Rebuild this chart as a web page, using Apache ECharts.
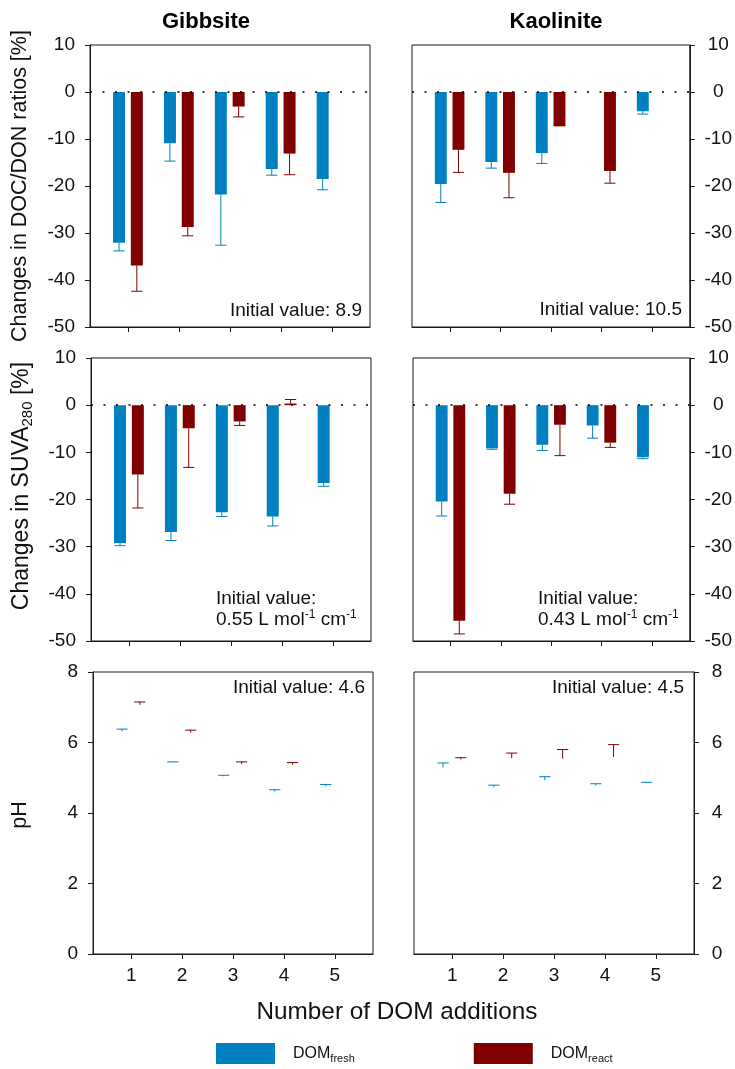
<!DOCTYPE html>
<html>
<head>
<meta charset="utf-8">
<script src="https://cdn.jsdelivr.net/npm/echarts@6/dist/echarts.min.js"></script>
<style>
html,body{margin:0;padding:0;background:#fff;}
#chart{width:735px;height:1069px;}
</style>
</head>
<body>
<div id="chart"></div>
<script>
// ---------------- data ----------------
const additions = [1, 2, 3, 4, 5];
const xTicks = [1, 2, 3, 4, 5];
const pctTicks = [-50, -40, -30, -20, -10, 0, 10];
const phTicks = [0, 2, 4, 6, 8];

// Changes in DOC/DON ratios [%]
const docGibbFresh    = [-32.1, -10.9, -21.8, -16.4, -18.5];
const docGibbFreshErr = [1.7, 3.8, 10.8, 1.3, 2.3];
const docGibbReact    = [-36.9, -28.7, -3.1, -13.1, null];
const docGibbReactErr = [5.5, 1.9, 2.2, 4.5, null];
const docKaolFresh    = [-19.6, -14.9, -13.0, null, -4.1];
const docKaolFreshErr = [3.9, 1.3, 2.2, null, 0.6];
const docKaolReact    = [-12.3, -17.2, -7.3, -16.8, null];
const docKaolReactErr = [4.8, 5.3, 0, 2.6, null];

// Changes in SUVA280 [%]
const suvaGibbFresh    = [-29.2, -26.9, -22.7, -23.6, -16.5];
const suvaGibbFreshErr = [0.6, 1.8, 0.9, 2.0, 0.7];
const suvaGibbReact    = [-14.7, -4.9, -3.45, 0.35, null];
const suvaGibbReactErr = [7.1, 8.3, 0.85, 0.85, null];
const suvaKaolFresh    = [-20.4, -9.15, -8.4, -4.3, -11.05];
const suvaKaolFreshErr = [3.1, 0.2, 1.2, 2.7, 0.3];
const suvaKaolReact    = [-45.7, -18.8, -4.15, -7.95, null];
const suvaKaolReactErr = [2.8, 2.2, 6.55, 1.0, null];

// pH
const phGibbFresh    = [6.32, 5.44, 5.04, 4.61, 4.76];
const phGibbFreshErr = [0.06, 0.01, 0.03, 0.05, 0.05];
const phGibbReact    = [7.07, 6.28, 5.39, 5.37, null];
const phGibbReactErr = [0.08, 0.07, 0.06, 0.06, null];
const phKaolFresh    = [5.29, 4.73, 4.93, 4.78, 4.85];
const phKaolFreshErr = [0.13, 0.06, 0.10, 0.05, 0.02];
const phKaolReact    = [5.52, 5.55, 5.54, 5.59, null];
const phKaolReactErr = [0.05, 0.15, 0.26, 0.35, null];

const initialValues = ['8.9', '10.5', '0.55', '0.43', '4.6', '4.5'];

// ---------------- styling / layout ----------------
const BLUE = '#0080c0';
const RED = '#800000';
const FONT = '"Liberation Sans", Arial, Helvetica, sans-serif';
const OFF_FRESH = -0.18, OFF_REACT = 0.17, BAR_HALF = 0.118, CAP_HALF = 0.11;

const gridBoxes = [
  {left: 90, top: 45, width: 280, height: 282},
  {left: 412, top: 45, width: 280, height: 282},
  {left: 91, top: 358, width: 280, height: 283},
  {left: 413, top: 358, width: 280, height: 283},
  {left: 93, top: 672, width: 280, height: 282},
  {left: 414, top: 672, width: 280, height: 282}
];

const panels = [
  {fresh: docGibbFresh, freshErr: docGibbFreshErr, react: docGibbReact, reactErr: docGibbReactErr, kind: 'pct'},
  {fresh: docKaolFresh, freshErr: docKaolFreshErr, react: docKaolReact, reactErr: docKaolReactErr, kind: 'pct'},
  {fresh: suvaGibbFresh, freshErr: suvaGibbFreshErr, react: suvaGibbReact, reactErr: suvaGibbReactErr, kind: 'pct'},
  {fresh: suvaKaolFresh, freshErr: suvaKaolFreshErr, react: suvaKaolReact, reactErr: suvaKaolReactErr, kind: 'pct'},
  {fresh: phGibbFresh, freshErr: phGibbFreshErr, react: phGibbReact, reactErr: phGibbReactErr, kind: 'ph'},
  {fresh: phKaolFresh, freshErr: phKaolFreshErr, react: phKaolReact, reactErr: phKaolReactErr, kind: 'ph'}
];

function buildData(vals, errs) {
  const out = [];
  additions.forEach((x, i) => {
    if (vals[i] !== null && vals[i] !== undefined) out.push([x, vals[i], errs[i] || 0]);
  });
  return out;
}

function makeRender(offset, color, drawBar) {
  return function (params, api) {
    const x = api.value(0) + offset;
    const v = api.value(1);
    const e = api.value(2);
    const children = [];
    const p0 = api.coord([x - BAR_HALF, 0]);
    const p1 = api.coord([x + BAR_HALF, v]);
    if (drawBar) {
      const y0 = Math.min(p0[1], p1[1]);
      children.push({
        type: 'rect',
        shape: {x: p0[0], y: y0, width: p1[0] - p0[0], height: Math.abs(p1[1] - p0[1])},
        style: {fill: color}
      });
    }
    if (e > 0) {
      const end = v + (v >= 0 ? e : -e);
      const a = api.coord([x, v]);
      const b = api.coord([x, end]);
      const cl = api.coord([x - CAP_HALF, end]);
      const cr = api.coord([x + CAP_HALF, end]);
      children.push({type: 'line', shape: {x1: a[0], y1: a[1], x2: b[0], y2: b[1]}, style: {stroke: color, lineWidth: 1}});
      children.push({type: 'line', shape: {x1: cl[0], y1: cl[1], x2: cr[0], y2: cr[1]}, style: {stroke: color, lineWidth: 1}});
    }
    return {type: 'group', children: children};
  };
}

const grid = [], xAxis = [], yAxis = [], series = [];
panels.forEach((p, i) => {
  const isRight = i % 2 === 1;
  const isBottom = i >= 4;
  grid.push(Object.assign({show: true, borderColor: '#1a1a1a', borderWidth: 1, backgroundColor: 'transparent'}, gridBoxes[i]));
  xAxis.push({
    gridIndex: i, type: 'value', min: 0.25, max: 5.75,
    axisLine: {show: true, onZero: false, lineStyle: {color: '#1a1a1a', width: 1}},
    axisTick: {show: true, customValues: xTicks, length: 5, inside: false, lineStyle: {color: '#1a1a1a'}},
    axisLabel: {show: isBottom, customValues: xTicks, fontFamily: FONT, fontSize: 19, color: '#111', margin: 12},
    splitLine: {show: false}
  });
  const ticks = p.kind === 'pct' ? pctTicks : phTicks;
  yAxis.push({
    gridIndex: i, type: 'value', position: isRight ? 'right' : 'left',
    min: ticks[0], max: ticks[ticks.length - 1], interval: ticks[1] - ticks[0],
    axisLine: {show: true, onZero: false, lineStyle: {color: '#1a1a1a', width: 1}},
    axisTick: {show: true, length: 5, inside: false, lineStyle: {color: '#1a1a1a'}},
    axisLabel: isRight
      ? {fontFamily: FONT, fontSize: 19, color: '#111', align: 'center', margin: p.kind === 'ph' ? 23 : 28.5}
      : {fontFamily: FONT, fontSize: 19, color: '#111', margin: 15},
    splitLine: {show: false}
  });
  const drawBar = p.kind === 'pct';
  series.push({
    type: 'custom', name: 'fresh', xAxisIndex: i, yAxisIndex: i,
    itemStyle: {color: BLUE},
    dimensions: ['x', 'y', 'err'], encode: {x: 0, y: 1},
    renderItem: makeRender(OFF_FRESH, BLUE, drawBar),
    data: buildData(p.fresh, p.freshErr), z: 2, silent: true
  });
  series.push({
    type: 'custom', name: 'react', xAxisIndex: i, yAxisIndex: i,
    itemStyle: {color: RED},
    dimensions: ['x', 'y', 'err'], encode: {x: 0, y: 1},
    renderItem: makeRender(OFF_REACT, RED, drawBar),
    data: buildData(p.react, p.reactErr), z: 2, silent: true
  });
  if (p.kind === 'pct') {
    series.push({
      type: 'line', name: 'zero', xAxisIndex: i, yAxisIndex: i, data: [], z: 5, silent: true,
      markLine: {
        silent: true, symbol: 'none', animation: false,
        label: {show: false},
        lineStyle: {color: '#000', type: [2, 10.5], width: 1.6},
        data: [{yAxis: 0}]
      }
    });
  }
});

const txt = (x, y, text, extra) => ({
  type: 'text', x: x, y: y, silent: true,
  style: Object.assign({text: text, fontFamily: FONT, fontSize: 19, fill: '#111'}, extra)
});
const supRich = {
  b: {fontFamily: FONT, fontSize: 19, lineHeight: 22, fill: '#111'},
  sup: {fontFamily: FONT, fontSize: 12, lineHeight: 22, verticalAlign: 'top', fill: '#111'}
};

const graphic = [
  txt(206, 22, 'Gibbsite', {fontSize: 22, fontWeight: 'bold', align: 'center', verticalAlign: 'middle', fill: '#000'}),
  txt(556, 22, 'Kaolinite', {fontSize: 22, fontWeight: 'bold', align: 'center', verticalAlign: 'middle', fill: '#000'}),
  Object.assign(txt(0, 0, 'Changes in DOC/DON ratios [%]', {fontSize: 21.5, align: 'center', verticalAlign: 'middle'}), {x: 20, y: 186, rotation: Math.PI / 2}),
  Object.assign(txt(0, 0, '{b|Changes in SUVA}{s|280}{b| [%]}', {
    align: 'center', verticalAlign: 'middle',
    rich: {
      b: {fontFamily: FONT, fontSize: 23, lineHeight: 26, fill: '#111'},
      s: {fontFamily: FONT, fontSize: 15, lineHeight: 26, verticalAlign: 'bottom', fill: '#111'}
    }
  }), {x: 22, y: 486, rotation: Math.PI / 2}),
  Object.assign(txt(0, 0, 'pH', {fontSize: 21.5, align: 'center', verticalAlign: 'middle'}), {x: 20, y: 815, rotation: Math.PI / 2}),
  txt(397, 1012, 'Number of DOM additions', {fontSize: 24.3, align: 'center', verticalAlign: 'middle'}),
  txt(362, 311, 'Initial value: ' + initialValues[0], {align: 'right', verticalAlign: 'middle'}),
  txt(682, 310, 'Initial value: ' + initialValues[1], {align: 'right', verticalAlign: 'middle'}),
  txt(216, 599, 'Initial value:', {align: 'left', verticalAlign: 'middle'}),
  txt(216, 620, '{b|' + initialValues[2] + ' L mol}{sup|-1}{b| cm}{sup|-1}', {align: 'left', verticalAlign: 'middle', rich: supRich}),
  txt(538, 599, 'Initial value:', {align: 'left', verticalAlign: 'middle'}),
  txt(538, 620, '{b|' + initialValues[3] + ' L mol}{sup|-1}{b| cm}{sup|-1}', {align: 'left', verticalAlign: 'middle', rich: supRich}),
  txt(365, 688, 'Initial value: ' + initialValues[4], {align: 'right', verticalAlign: 'middle'}),
  txt(684, 688, 'Initial value: ' + initialValues[5], {align: 'right', verticalAlign: 'middle'})
];

const chart = echarts.init(document.getElementById('chart'), null, {renderer: 'canvas'});
chart.setOption({
  animation: false,
  backgroundColor: '#fff',
  grid: grid,
  xAxis: xAxis,
  yAxis: yAxis,
  series: series,
  graphic: graphic,
  legend: {
    data: ['fresh', 'react'],
    left: 216, top: 1043, padding: 0,
    itemWidth: 59, itemHeight: 21, itemGap: 119,
    icon: 'rect', selectedMode: false,
    formatter: n => '{m|DOM}{s|' + n + '}',
    textStyle: {
      padding: [0, 0, 0, 13],
      rich: {
        m: {fontFamily: FONT, fontSize: 16, lineHeight: 22, color: '#111'},
        s: {fontFamily: FONT, fontSize: 11, lineHeight: 22, verticalAlign: 'bottom', color: '#111'}
      }
    }
  }
});
</script>
</body>
</html>
